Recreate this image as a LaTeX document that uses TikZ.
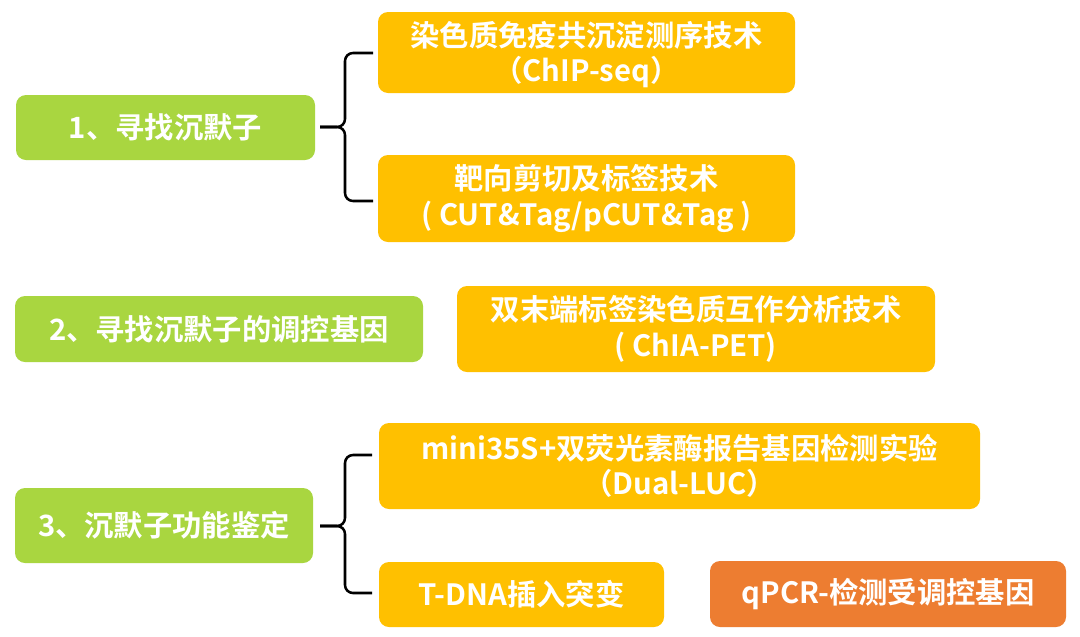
\documentclass[tikz,border=0pt]{standalone}
\usepackage{fontspec}
\setmainfont{Noto Sans CJK SC Bold}
\usetikzlibrary{fit}
\definecolor{mygreen}{RGB}{169,214,64}
\definecolor{myorange}{RGB}{255,192,0}
\definecolor{myred}{RGB}{237,125,49}
\tikzset{
  box/.style={rounded corners=7.5pt, inner sep=0pt},
  gbox/.style={box, fill=mygreen},
  obox/.style={box, fill=myorange},
  rbox/.style={box, fill=myred},
  lbl/.style={text=white, align=center, inner sep=0pt, font=\fontsize{22}{26.5}\selectfont},
  bracepath/.style={draw=black, line width=1.9pt, line join=round}
}
\begin{document}
\begin{tikzpicture}[x=0.75pt,y=-0.75pt]
\useasboundingbox (0,0) rectangle (1080,636);
\fill[white] (0,0) rectangle (1080,636);
% section 1
\node[gbox, fit={(16,95) (315,160)}] (g1) {};
\node[lbl] (g1t) at (g1.center) {1、寻找沉默子};
\node[obox, fit={(378,12) (795,93)}] (a) {};
\node[lbl] (at) at ([yshift=-1.5pt]a.center) {染色质免疫共沉淀测序技术\\（ChIP-seq）};
\node[obox, fit={(378,155) (795,242)}] (b) {};
\node[lbl] (bt) at (b.center) {靶向剪切及标签技术\\( CUT\&Tag/pCUT\&Tag )};
\coordinate (t1) at (320,127);
\draw[bracepath] (373,53) -- (353,53) to[out=180,in=90] (345,61) -- (345,119)
  to[out=-90,in=0] (337,127) -- (t1);
\draw[bracepath] (t1) -- (337,127) to[out=0,in=90] (345,135) -- (345,193)
  to[out=-90,in=180] (353,201) -- (373,201);
% section 2
\node[gbox, fit={(15,296) (423,362)}] (g2) {};
\node[lbl] (g2t) at (g2.center) {2、寻找沉默子的调控基因};
\node[obox, fit={(457,286) (935,372)}] (c) {};
\node[lbl] (ct) at (c.center) {双末端标签染色质互作分析技术\\( ChIA-PET)};
% section 3
\node[gbox, fit={(15,488) (313,563)}] (g3) {};
\node[lbl] (g3t) at (g3.center) {3、沉默子功能鉴定};
\node[obox, fit={(379,423) (980,509)}] (d) {};
\node[lbl] (dt) at (d.center) {mini35S+双荧光素酶报告基因检测实验\\（Dual-LUC）};
\node[obox, fit={(379,562) (664,627)}] (e) {};
\node[lbl] (et) at (e.center) {T-DNA插入突变};
\node[rbox, fit={(710,561) (1066,627)}] (f) {};
\node[lbl] (ft) at (f.center) {qPCR-检测受调控基因};
\coordinate (t3) at (320,526);
\draw[bracepath] (372,455) -- (353,455) to[out=180,in=90] (345,463) -- (345,518)
  to[out=-90,in=0] (337,526) -- (t3);
\draw[bracepath] (t3) -- (337,526) to[out=0,in=90] (345,534) -- (345,585)
  to[out=-90,in=180] (353,593) -- (372,593);
\end{tikzpicture}
\end{document}
